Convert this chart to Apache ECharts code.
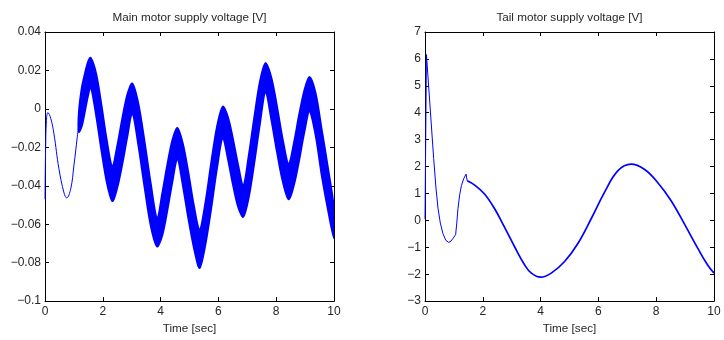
<!DOCTYPE html>
<html>
<head>
<meta charset="utf-8">
<script src="https://cdn.jsdelivr.net/npm/echarts@6/dist/echarts.min.js"></script>
<style>
  html, body { margin: 0; padding: 0; background: #fff; }
  #chart { width: 724px; height: 340px; }
</style>
</head>
<body>
<div id="chart"></div>
<script>
// Main motor: start-up transient before the PWM ripple sets in
const mainStartTime = [0, 0.02, 0.05, 0.1, 0.2, 0.31, 0.48, 0.66, 0.75, 0.89, 1.0, 1.12, 1.17];
const mainStartVolt = [-0.047, -0.022, -0.006, -0.0019, -0.005, -0.013, -0.031, -0.0438, -0.0463, -0.0416, -0.0296, -0.0142, -0.008];

// Main motor: upper and lower envelope of the rippled voltage
const mainRippleTime = [
  1.17, 1.27, 1.375, 1.48, 1.58, 1.77, 1.955, 2.14, 2.33, 2.50, 2.675, 2.85, 3.02,
  3.235, 3.45, 3.665, 3.88, 4.055, 4.23, 4.405, 4.58, 4.77, 4.965, 5.16, 5.35,
  5.55, 5.75, 5.95, 6.15, 6.33, 6.505, 6.68, 6.86, 7.05, 7.245, 7.44, 7.63,
  7.83, 8.03, 8.23, 8.43, 8.61, 8.79, 8.97, 9.15, 9.36, 9.575, 9.79, 10
];
const mainRippleUpper = [
  -0.002, 0.0108, 0.0181, 0.0241, 0.0266, 0.0184, 0.002, -0.0164, -0.030, -0.0191, -0.0048, 0.0076, 0.0132,
  0.0025, -0.0174, -0.0393, -0.057, -0.044, -0.0292, -0.0163, -0.0099, -0.018, -0.0335, -0.0509, -0.063,
  -0.0487, -0.028, -0.0092, 0.0012, -0.0042, -0.0156, -0.0289, -0.040, -0.0242, -0.0039, 0.0145, 0.0238,
  0.0165, 0.0012, -0.0161, -0.0288, -0.0179, -0.0032, 0.0095, 0.0166, 0.0085, -0.0107, -0.0305, -0.052
];
const mainRippleLower = [
  -0.012, -0.0092, -0.0019, 0.0061, 0.0115, -0.0036, -0.022, -0.0384, -0.048, -0.0411, -0.0288, -0.0144, -0.0022,
  -0.0195, -0.0414, -0.0613, -0.0716, -0.066, -0.0532, -0.0383, -0.026, -0.040, -0.0575, -0.0729, -0.0828,
  -0.0707, -0.052, -0.0312, -0.0151, -0.0262, -0.0396, -0.0509, -0.0562, -0.0462, -0.0279, -0.0075, 0.0089,
  -0.0055, -0.0228, -0.0381, -0.0471, -0.0399, -0.0272, -0.0125, -0.0014, -0.0135, -0.0347, -0.0525, -0.0674
];

// Tail motor: kick at switch-on and the first oscillation
const tailStartTime = [0, 0.05, 0.3, 0.38, 0.45, 0.53, 0.62, 0.72, 0.82, 0.9, 0.97, 1.06, 1.1, 1.14, 1.2, 1.26, 1.34, 1.42, 1.46];
const tailStartVolt = [0.05, 6.16, 2.3, 1.2, 0.45, -0.1, -0.49, -0.74, -0.82, -0.77, -0.67, -0.53, -0.1, 0.43, 0.95, 1.29, 1.55, 1.72, 1.47];

// Tail motor: slow swing once the controller is running
const tailRunTime = [1.46, 1.72, 2.06, 2.41, 2.75, 3.1, 3.45, 3.68, 4.0, 4.37, 4.83, 5.29, 5.75, 6.21, 6.67, 7.13, 7.59, 8.05, 8.51, 8.97, 9.44, 9.78, 10];
const tailRunVolt = [1.47, 1.31, 0.98, 0.43, -0.25, -0.98, -1.66, -1.96, -2.11, -1.96, -1.53, -0.86, 0.06, 1.04, 1.84, 2.09, 1.9, 1.41, 0.74, -0.12, -1.04, -1.66, -1.96];

// Tick values
const timeTicks = [0, 2, 4, 6, 8, 10];
const mainVoltTicks = [-0.1, -0.08, -0.06, -0.04, -0.02, 0, 0.02, 0.04];
const tailVoltTicks = [-3, -2, -1, 0, 1, 2, 3, 4, 5, 6, 7];

const titles = ['Main motor supply voltage [V]', 'Tail motor supply voltage [V]'];
const timeLabel = 'Time [sec]';

const BLUE = '#0000ff';
const INK = '#262626';
const FONT = '"Liberation Sans", Arial, Helvetica, sans-serif';

const zip = (xs, ys) => xs.map((x, i) => [x, ys[i]]);
const fmt = v => String(parseFloat(v.toFixed(2))).replace('-', '\u2212');

function range(ticks) {
  return { min: ticks[0], max: ticks[ticks.length - 1], interval: ticks[1] - ticks[0] };
}

function axis(gridIndex, position, ticks, opts) {
  const r = range(ticks);
  return Object.assign({
    type: 'value',
    gridIndex,
    position,
    min: r.min,
    max: r.max,
    interval: r.interval,
    axisLine: { show: true, onZero: false, lineStyle: { color: '#000', width: 1 } },
    axisTick: { show: true, inside: true, length: 4, lineStyle: { color: '#000', width: 1 } },
    splitLine: { show: false },
    axisLabel: { show: false }
  }, opts || {});
}

const tickLabel = margin => ({
  show: true, margin, color: INK, fontSize: 12, fontFamily: FONT, formatter: fmt
});

const nameStyle = { color: INK, fontSize: 11.7, fontFamily: FONT };

const xAxis = [];
const yAxis = [];
[[mainVoltTicks, 0], [tailVoltTicks, 1]].forEach(([vt, g]) => {
  xAxis.push(axis(g, 'bottom', timeTicks, {
    axisLabel: tickLabel(5),
    name: timeLabel, nameLocation: 'middle', nameGap: 19, nameTextStyle: nameStyle
  }));
  xAxis.push(axis(g, 'top', timeTicks, {
    name: titles[g], nameLocation: 'middle', nameGap: 8, nameTextStyle: nameStyle
  }));
  yAxis.push(axis(g, 'left', vt, { axisLabel: tickLabel(4) }));
  yAxis.push(axis(g, 'right', vt));
});

const lineBase = { type: 'line', symbol: 'none', silent: true, animation: false };

// Ripple band: closed outline running along the upper envelope, back along the lower one
function renderRipple(params, api) {
  const top = mainRippleTime.map((t, i) => api.coord([t, mainRippleUpper[i]]));
  const bottom = mainRippleTime.map((t, i) => api.coord([t, mainRippleLower[i]])).reverse();
  return {
    type: 'polygon',
    shape: { points: top.concat(bottom), smooth: 0.3 },
    style: { fill: BLUE, stroke: BLUE, lineWidth: 1.8, lineJoin: 'round' }
  };
}

const option = {
  animation: false,
  grid: [
    { left: 45, top: 32, width: 289, height: 271 },
    { left: 425, top: 32, width: 289, height: 271 }
  ],
  xAxis,
  yAxis,
  series: [
    Object.assign({}, lineBase, {
      xAxisIndex: 0, yAxisIndex: 0, smooth: 0.4,
      data: zip(mainStartTime, mainStartVolt),
      lineStyle: { color: BLUE, width: 1 }
    }),
    {
      type: 'custom', xAxisIndex: 0, yAxisIndex: 0, silent: true, animation: false, clip: true,
      data: [[mainRippleTime[0], mainRippleUpper[0]]],
      renderItem: renderRipple
    },
    Object.assign({}, lineBase, {
      xAxisIndex: 2, yAxisIndex: 2,
      data: zip(tailStartTime, tailStartVolt),
      lineStyle: { color: BLUE, width: 1 }
    }),
    Object.assign({}, lineBase, {
      xAxisIndex: 2, yAxisIndex: 2, smooth: 0.4,
      data: zip(tailRunTime, tailRunVolt),
      lineStyle: { color: BLUE, width: 1.7 }
    })
  ]
};

const chart = echarts.init(document.getElementById('chart'), null, { renderer: 'canvas' });
chart.setOption(option);
</script>
</body>
</html>
